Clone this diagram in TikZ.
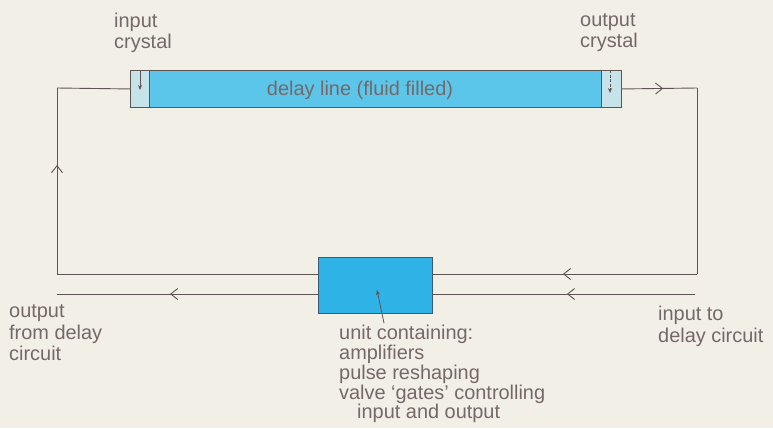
\documentclass[tikz,border=0pt]{standalone}
\usepackage{fontspec}
\setmainfont{Liberation Sans}
\usetikzlibrary{arrows.meta,decorations.markings}
\definecolor{bg}{HTML}{F2EFE7}
\definecolor{ink}{HTML}{5E5454}
\definecolor{txt}{HTML}{766868}
\definecolor{lineblue}{HTML}{5CC6EA}
\definecolor{crys}{HTML}{C6E3EA}
\definecolor{unitblue}{HTML}{2FB2E6}
\definecolor{unitedge}{HTML}{3E5A74}
\tikzset{
  wire/.style={draw=ink, line width=0.9bp},
  midarrow/.style={postaction={decorate},
    decoration={markings, mark=at position #1 with {\arrow{Straight Barb[length=7bp,width=11bp,line width=0.9bp]}}}},
  lbl/.style={text=txt, font=\fontsize{20}{21}\selectfont, align=left, inner sep=0pt, anchor=north west},
  boxpart/.style={draw=ink, line width=0.9bp, inner sep=0pt, anchor=north west},
  smallarrow/.style={draw=ink, line width=0.8bp, -{Stealth[length=5bp,width=4bp]}},
}
\begin{document}
\begin{tikzpicture}[x=1bp,y=-1bp]
\useasboundingbox[fill=bg] (0,0) rectangle (773,428);

% delay line and crystals
\node[boxpart, fill=lineblue, minimum width=452bp, minimum height=37bp] (dl) at (149,70) {};
\node[boxpart, fill=crys, minimum width=19bp, minimum height=37bp] (incr) at (130,70) {};
\node[boxpart, fill=crys, minimum width=20bp, minimum height=37bp] (outcr) at (601,70) {};
\node[text=txt, font=\fontsize{20}{21}\selectfont, inner sep=0pt, anchor=base] (dltext) at (360,95) {delay line (fluid filled)};

% crystal arrows
\coordinate (inA) at (140,70);
\coordinate (inB) at (140,90);
\draw[smallarrow] (inA) -- (inB);
\coordinate (outA) at (610,70);
\coordinate (outB) at (610,93);
\draw[smallarrow, dash pattern=on 3bp off 1.5bp] (outA) -- (outB);

% unit box
\node[draw=unitedge, line width=1bp, fill=unitblue, minimum width=114bp, minimum height=56bp, inner sep=0pt, anchor=north west] (unit) at (318,257) {};

% loop coordinates
\coordinate (tl) at (57,88);
\coordinate (bl) at (57,274);
\coordinate (tr) at (697,88);
\coordinate (br) at (697,274);
\coordinate (inend) at (695,294);
\coordinate (outend) at (57,294);
\coordinate (ul) at (318,274);
\coordinate (ur) at (432,274);
\coordinate (ll) at (318,294);
\coordinate (lr) at (432,294);

% loop wires
\draw[wire] (incr.west) -- (tl);
\draw[wire, midarrow=0.586] (bl) -- (tl);
\draw[wire] (ul) -- (bl);
\draw[wire, midarrow=0.55] (outcr.east) -- (tr);
\draw[wire] (tr) -- (br);
\draw[wire, midarrow=0.506] (br) -- (ur);
\draw[wire, midarrow=0.487] (inend) -- (lr);
\draw[wire, midarrow=0.567] (ll) -- (outend);

% labels
\node[lbl] (lin) at (114,12.6) {input\\crystal};
\node[lbl] (lout) at (580,13.6) {output\\crystal};
\node[lbl, font=\fontsize{20}{21.5}\selectfont] (lof) at (9,304.6) {output\\from delay\\circuit};
\node[lbl, font=\fontsize{20}{22.5}\selectfont] (lit) at (658,305.6) {input to\\delay circuit};
\node[lbl, font=\fontsize{20}{20}\selectfont] (lunit) at (339,324.6) {unit containing:\\amplifiers\\pulse reshaping\\valve ‘gates’ controlling\\\hspace*{18bp}input and output};

% pointer
\coordinate (pA) at (384,323);
\coordinate (pB) at (377,290);
\draw[smallarrow] (pA) -- (pB);
\end{tikzpicture}
\end{document}
